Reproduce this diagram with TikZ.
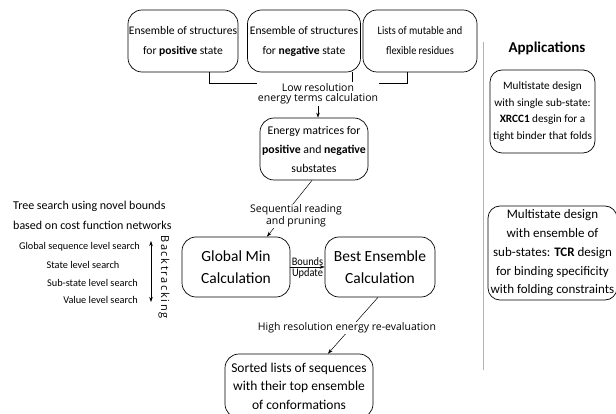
\documentclass[tikz,border=0pt]{standalone}
\usepackage{fontspec}
\setmainfont{Carlito}
\newfontfamily\wfont{Open Sans}
\newfontfamily\bkfont[LetterSpace=15]{Open Sans}
\newfontfamily\cfont[FakeStretch=0.9]{Carlito}
\usetikzlibrary{arrows.meta}

\begin{document}
\begin{tikzpicture}[x=1pt,y=-1pt,box/.style ={draw, rounded corners=14pt, line width=0.7pt, inner sep=0pt, align=center},abox/.style ={draw, rounded corners=12pt, line width=0.7pt, inner sep=0pt, align=center},lbl/.style ={inner sep=1pt, align=center, fill=white},arr/.style ={-{Stealth[length=5pt,width=3.5pt]}, line width=0.5pt},ln/.style ={line width=0.6pt},txt/.style ={inner sep=0pt}]

\useasboundingbox (0,0) rectangle (616,414);

%input boxes
\node[box, minimum width=110pt, minimum height=62pt, font=\fontsize{11.6}{20}\selectfont] at (183,41) (pos) {Ensemble of structures\\for \textbf{positive} state};
\node[box, minimum width=113pt, minimum height=62pt, font=\fontsize{11.6}{20}\selectfont] at (304,41) (neg) {Ensemble of structures\\for \textbf{negative} state};
\node[box, minimum width=114pt, minimum height=62pt, font=\cfont\fontsize{11.5}{20}\selectfont] at (420,41) (res) {Lists of mutable and\\flexible residues};

%joining bracket
\coordinate (j1) at (209,83);
\coordinate (j2) at (352,83);
\coordinate (j3) at (407,83);
\draw[ln] (j1 |- pos.south) -- (j1) -- (j3) -- (j3 |- res.south);
\draw[ln] (j2 |- neg.south) -- (j2);

%energy matrices
\node[lbl, font=\wfont\fontsize{10.5}{10.5}\selectfont] at (318,94) (lowres) {Low resolution\\energy terms calculation};
\node[box, minimum width=108pt, minimum height=62pt, font=\fontsize{11.8}{19}\selectfont] at (314,149) (emat) {Energy matrices for\\\textbf{positive} and \textbf{negative}\\substates};
\draw[arr] (lowres.south) -- (lowres.south |- emat.north);

%search boxes
\node[box, minimum width=108pt, minimum height=60pt, font=\fontsize{15.5}{22}\selectfont] at (236,267) (gmin) {Global Min\\Calculation};
\node[box, minimum width=110pt, minimum height=60pt, font=\fontsize{15.5}{22}\selectfont] at (380,267) (bens) {Best Ensemble\\Calculation};
\draw[arr] (gmin.east) -- (bens.west) node[midway, above, inner sep=1.5pt, font=\cfont\fontsize{11.5}{11.5}\selectfont] {Bounds} node[midway, below, inner sep=1.5pt, font=\cfont\fontsize{11.5}{11.5}\selectfont] {Update};
\draw[arr] ([xshift=-2pt]emat.south) -- ([xshift=31pt]gmin.north);
\node[lbl, font=\wfont\fontsize{10.5}{12}\selectfont] at (296,216) (seq) {Sequential reading\\and pruning};

%output
\node[box, minimum width=148pt, minimum height=64pt, font=\fontsize{13.5}{18.5}\selectfont] at (299,386) (sorted) {Sorted lists of sequences\\with their top ensemble\\of conformations};
\draw[arr] ([xshift=-2pt]bens.south) -- ([xshift=29pt]sorted.north);
\node[lbl, font=\wfont\fontsize{10.5}{10.5}\selectfont] at (347,328) (hires) {High resolution energy re-evaluation};

%tree search levels
\node[txt, anchor=west, align=left, font=\fontsize{12}{20}\selectfont] at (13,215) (tree) {Tree search using novel bounds\\based on cost function networks};
\node[txt, anchor=east, font=\fontsize{10.3}{12}\selectfont] at (140,247) (s1) {Global sequence level search};
\node[txt, font=\fontsize{10.3}{12}\selectfont] at (83,265) (s2) {State level search};
\node[txt, anchor=east, font=\fontsize{10.3}{12}\selectfont] at (138,283) (s3) {Sub-state level search};
\node[txt, anchor=east, font=\fontsize{10.3}{12}\selectfont] at (138,300) (s4) {Value level search};
\coordinate (bt1) at (151,241);
\coordinate (bt2) at (151,302);
\draw[{Stealth[length=5pt,width=3.5pt]}-{Stealth[length=5pt,width=3.5pt]}, line width=0.5pt] (bt1) -- (bt2);
\node[txt, rotate=-90, font=\bkfont\fontsize{11}{11}\selectfont] at (164,277) (back) {Backtracking};

%applications
\coordinate (d1) at (483,42);
\coordinate (d2) at (483,370);
\draw[gray!60, line width=0.5pt] (d1) -- (d2);
\node[txt, font=\bfseries\fontsize{15}{15}\selectfont] at (547,48) (app) {Applications};
\node[abox, minimum width=105pt, minimum height=83pt, font=\fontsize{11.2}{16.7}\selectfont] at (542.5,111.5) (a1) {Multistate design\\with single sub-state:\\\textbf{XRCC1} desgin for a\\tight binder that folds};
\node[abox, minimum width=129pt, minimum height=94pt, font=\fontsize{13}{18.7}\selectfont] at (552.5,253) (a2) {Multistate design\\with ensemble of\\sub-states: \textbf{TCR} design\\for binding specificity\\with folding constraints};
\end{tikzpicture}
\end{document}
